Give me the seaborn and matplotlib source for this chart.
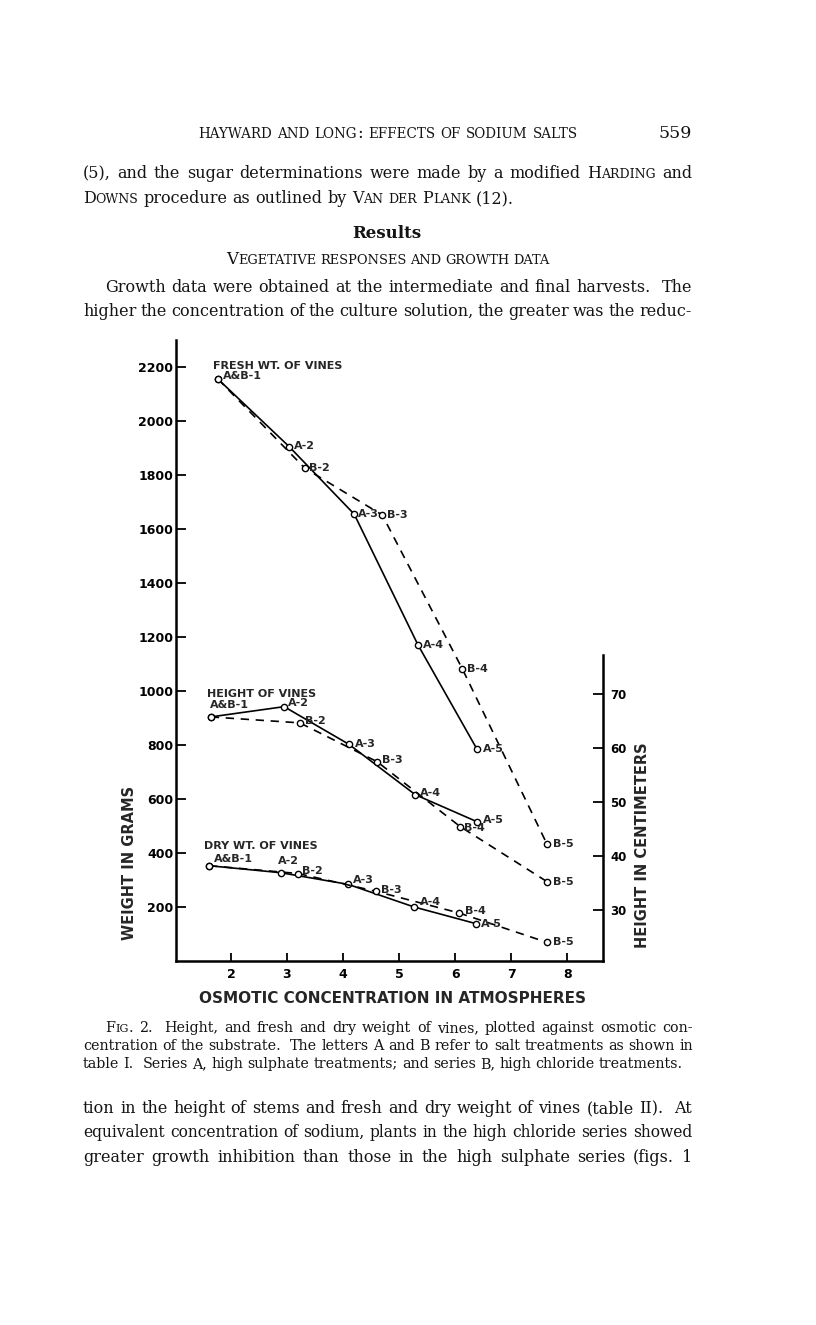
import matplotlib
matplotlib.use('Agg')
import numpy as np
import pandas as pd
import matplotlib.pyplot as plt
import seaborn as sns


# values
conc_fresh_a = [1.77, 3.04, 4.20, 5.34, 6.39]
fresh_a = [2155, 1905, 1655, 1170, 785]
conc_fresh_b = [1.77, 3.32, 4.70, 6.13, 7.64]
fresh_b = [2155, 1825, 1652, 1082, 433]

conc_height_a = [1.64, 2.95, 4.11, 5.29, 6.39]
height_a = [65.7, 67.6, 60.6, 51.3, 46.3]
conc_height_b = [1.64, 3.23, 4.61, 6.09, 7.64]
height_b = [65.7, 64.6, 57.4, 45.4, 35.2]

conc_dry_a = [1.61, 2.89, 4.09, 5.27, 6.38]
dry_a = [353, 327, 284, 200, 138]
conc_dry_b = [1.61, 3.20, 4.59, 6.07, 7.64]
dry_b = [353, 324, 258, 178, 69]

labels_a = ['A&B-1', 'A-2', 'A-3', 'A-4', 'A-5']
labels_b = [None, 'B-2', 'B-3', 'B-4', 'B-5']

x_ticks = [2, 3, 4, 5, 6, 7, 8]
gram_ticks = [200, 400, 600, 800, 1000, 1200, 1400, 1600, 1800, 2000, 2200]
cm_ticks = [30, 40, 50, 60, 70]

sns.set_theme(style='white')
plt.rcParams['font.family'] = ['DejaVu Sans']

W, H = 816, 1325
fig = plt.figure(figsize=(W / 100, H / 100), dpi=100)
fig.patch.set_facecolor('white')

# page layer in pixel coordinates for the printed text
page = fig.add_axes([0, 0, 1, 1])
page.set_xlim(0, W)
page.set_ylim(H, 0)
page.axis('off')
renderer = fig.canvas.get_renderer()
SERIF = 'DejaVu Serif'


def word_pieces(word, size):
    weight = 'normal'
    if word.startswith('*'):
        weight = 'bold'
        word = word[1:]
    if word.startswith('~'):
        # fake small caps
        out = []
        for ch in word[1:]:
            s = size * 0.78 if ch.islower() else size
            if out and out[-1][1] == s:
                out[-1][0] += ch.upper()
            else:
                out.append([ch.upper(), s])
        return [(t, s, weight) for t, s in out]
    return [(word, size, weight)]


def build(y, words, size):
    groups = []
    for w in words:
        grp = []
        for t, s, wt in word_pieces(w, size):
            a = page.text(0, y, t, fontsize=s, fontweight=wt, family=SERIF,
                          va='baseline', ha='left', color='#141414')
            grp.append((a, a.get_window_extent(renderer).width))
        groups.append(grp)
    return groups


def text_line(y, line, x0=0, x1=None, size=11.5, justify=True, center=None):
    words = line.split(' ')
    groups = build(y, words, size)
    widths = [sum(w for _, w in g) for g in groups]
    n = len(groups)
    min_gap = size * 0.25 * 100 / 72
    if justify and x1 is not None and n > 1:
        if sum(widths) + min_gap * (n - 1) > x1 - x0:
            # shrink the line to fit
            for g in groups:
                for a, _ in g:
                    a.remove()
            size *= (x1 - x0 - min_gap * (n - 1)) / sum(widths)
            groups = build(y, words, size)
            widths = [sum(w for _, w in g) for g in groups]
        gap = (x1 - x0 - sum(widths)) / (n - 1)
    else:
        gap = size * 0.32 * 100 / 72
    if center is not None:
        x0 = center - (sum(widths) + gap * (n - 1)) / 2
    x = x0
    for g, wd in zip(groups, widths):
        for a, w in g:
            a.set_x(x)
            x += w
        x += gap


text_line(138, '~hayward ~and ~long: ~effects ~of ~sodium ~salts', 198, 578, size=12.5)
page.text(692, 138, '559', fontsize=12.5, family=SERIF, ha='right', va='baseline', color='#141414')
text_line(178, '(5), and the sugar determinations were made by a modified ~Harding and', 83, 692)
text_line(203, '~Downs procedure as outlined by ~Van ~der ~Plank (12).', 83, justify=False)
page.text(387, 238, 'Results', fontsize=12, fontweight='bold', family=SERIF,
          ha='center', va='baseline', color='#141414')
text_line(264, '~Vegetative ~responses ~and ~growth ~data', 226, 550, size=12)
text_line(292, 'Growth data were obtained at the intermediate and final harvests.  The', 105, 692)
text_line(316, 'higher the concentration of the culture solution, the greater was the reduc-', 83, 692)

text_line(1032, '~Fig. 2.  Height, and fresh and dry weight of vines, plotted against osmotic con-', 105, 693, size=10.3)
text_line(1050, 'centration of the substrate.  The letters A and B refer to salt treatments as shown in', 83, 693, size=10.3)
text_line(1068, 'table I.  Series A, high sulphate treatments; and series B, high chloride treatments.', 83, 683, size=10.3)

text_line(1113, 'tion in the height of stems and fresh and dry weight of vines (table II).  At', 83, 692)
text_line(1137, 'equivalent concentration of sodium, plants in the high chloride series showed', 83, 692)
text_line(1162, 'greater growth inhibition than those in the high sulphate series (figs. 1', 83, 692)

# chart
ax = fig.add_axes([176 / W, 1 - 961 / H, 427 / W, 621 / H])
ax.patch.set_alpha(0)
ax2 = ax.twinx()
ax2.patch.set_alpha(0)


def draw_pair(axis, xa, ya, xb, yb):
    df = pd.DataFrame({'conc': xa + xb, 'value': ya + yb,
                       'series': ['A'] * len(xa) + ['B'] * len(xb)})
    sns.lineplot(data=df, x='conc', y='value', style='series',
                 dashes={'A': '', 'B': (5, 4)}, markers={'A': 'o', 'B': 'o'},
                 color='black', estimator=None, sort=False, legend=False, ax=axis,
                 linewidth=1.2, markersize=4.5, markerfacecolor='white',
                 markeredgecolor='black', markeredgewidth=1)


draw_pair(ax, conc_fresh_a, fresh_a, conc_fresh_b, fresh_b)
draw_pair(ax, conc_dry_a, dry_a, conc_dry_b, dry_b)
draw_pair(ax2, conc_height_a, height_a, conc_height_b, height_b)

ax.set_xlim(1.02, 8.64)
ax.set_ylim(0, 2300)
ax2.set_ylim(20.5, 135.5)
for a in (ax, ax2):
    a.set_xlabel('')
    a.set_ylabel('')

# point labels: offsets in pixels
off_fresh_a = [(5, 3), (5, 1), (4, 0), (5, 0), (6, 0)]
off_fresh_b = [None, (4, 0), (5, 0), (5, 0), (6, 0)]
off_height_a = [(-1, 12), (4, 4), (6, 0), (5, 2), (6, 2)]
off_height_b = [None, (5, 2), (5, 2), (4, -1), (6, 0)]
off_dry_a = [(5, 7), (-3, 12), (5, 4), (6, 5), (5, 0)]
off_dry_b = [None, (4, 3), (5, 1), (6, 2), (6, 0)]


def put_labels(axis, xs, ys, labels, offs):
    for x, y, t, o in zip(xs, ys, labels, offs):
        if t is None:
            continue
        axis.annotate(t, (x, y), xytext=o, textcoords='offset pixels',
                      fontsize=8, fontweight='bold', ha='left', va='center')


put_labels(ax, conc_fresh_a, fresh_a, labels_a, off_fresh_a)
put_labels(ax, conc_fresh_b, fresh_b, labels_b, off_fresh_b)
put_labels(ax2, conc_height_a, height_a, labels_a, off_height_a)
put_labels(ax2, conc_height_b, height_b, labels_b, off_height_b)
put_labels(ax, conc_dry_a, dry_a, labels_a, off_dry_a)
put_labels(ax, conc_dry_b, dry_b, labels_b, off_dry_b)

ax.text(1.68, 2205, 'FRESH WT. OF VINES', fontsize=8, fontweight='bold', va='center')
ax.text(1.57, 989, 'HEIGHT OF VINES', fontsize=8, fontweight='bold', va='center')
ax.text(1.52, 425, 'DRY WT. OF VINES', fontsize=8, fontweight='bold', va='center')

# axes styling
for s in ['top', 'right']:
    ax.spines[s].set_visible(False)
for s in ['top', 'left', 'bottom']:
    ax2.spines[s].set_visible(False)
for s in ['left', 'bottom']:
    ax.spines[s].set_color('black')
    ax.spines[s].set_linewidth(1.8)
ax2.spines['right'].set_color('black')
ax2.spines['right'].set_linewidth(1.8)
ax2.spines['right'].set_bounds(20.5, 77.2)

ax.set_xticks(x_ticks)
ax.set_yticks(gram_ticks)
ax2.set_yticks(cm_ticks)
ax.tick_params(axis='x', bottom=True, direction='in', length=6, width=1.3,
               labelsize=9, pad=5, colors='black')
ax.tick_params(axis='y', left=True, direction='in', length=7, width=1.3,
               labelsize=9, pad=2, colors='black')
ax2.tick_params(axis='y', right=True, direction='in', length=7, width=1.3,
                labelsize=8.5, pad=5, colors='black')
for lbl in ax.get_xticklabels() + ax.get_yticklabels() + ax2.get_yticklabels():
    lbl.set_fontweight('bold')

ax.text(0.508, -0.048, 'OSMOTIC CONCENTRATION IN ATMOSPHERES', transform=ax.transAxes,
        fontsize=11, fontweight='bold', ha='center', va='top')
ax.text(-0.110, 0.158, 'WEIGHT IN GRAMS', transform=ax.transAxes, rotation=90,
        fontsize=10.5, fontweight='bold', ha='center', va='center')
ax.text(1.092, 0.187, 'HEIGHT IN CENTIMETERS', transform=ax.transAxes, rotation=90,
        fontsize=10.5, fontweight='bold', ha='center', va='center')

fig.savefig('out.png', dpi=100, facecolor='white')
